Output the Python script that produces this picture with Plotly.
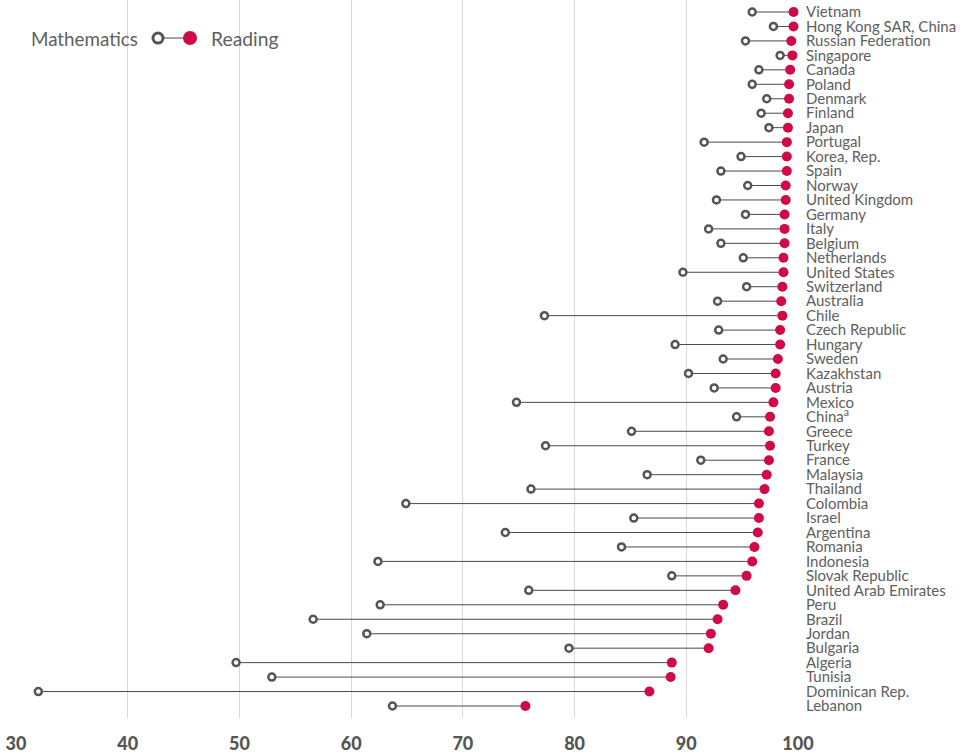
import plotly.graph_objects as go

countries = ["Vietnam", "Hong Kong SAR, China", "Russian Federation", "Singapore", "Canada",
             "Poland", "Denmark", "Finland", "Japan", "Portugal", "Korea, Rep.", "Spain",
             "Norway", "United Kingdom", "Germany", "Italy", "Belgium", "Netherlands",
             "United States", "Switzerland", "Australia", "Chile", "Czech Republic", "Hungary",
             "Sweden", "Kazakhstan", "Austria", "Mexico", "China<sup>a</sup>", "Greece", "Turkey",
             "France", "Malaysia", "Thailand", "Colombia", "Israel", "Argentina", "Romania",
             "Indonesia", "Slovak Republic", "United Arab Emirates", "Peru", "Brazil", "Jordan",
             "Bulgaria", "Algeria", "Tunisia", "Dominican Rep.", "Lebanon"]

mathematics = [95.9, 97.8, 95.3, 98.4, 96.5, 95.9, 97.2, 96.7, 97.4, 91.6, 94.9, 93.1,
               95.5, 92.7, 95.3, 92.0, 93.1, 95.1, 89.7, 95.4, 92.8, 77.3, 92.9, 89.0,
               93.3, 90.2, 92.5, 74.8, 94.5, 85.1, 77.4, 91.3, 86.5, 76.1, 64.9, 85.3,
               73.8, 84.2, 62.4, 88.7, 75.9, 62.6, 56.6, 61.4, 79.5, 49.7, 52.9, 32.0, 63.7]

reading = [99.6, 99.6, 99.4, 99.5, 99.3, 99.2, 99.2, 99.1, 99.1, 99.0, 99.0, 99.0,
           98.9, 98.9, 98.8, 98.8, 98.8, 98.7, 98.7, 98.6, 98.5, 98.6, 98.4, 98.4,
           98.2, 98.0, 98.0, 97.8, 97.5, 97.4, 97.5, 97.4, 97.2, 97.0, 96.5, 96.5,
           96.4, 96.1, 95.9, 95.4, 94.4, 93.3, 92.8, 92.2, 92.0, 88.7, 88.6, 86.7, 75.6]

x_ticks = [30, 40, 50, 60, 70, 80, 90, 100]

RED = "#CF0A45"
GRAY = "#555555"
LABEL_GRAY = "#606060"

lx, ly = [], []
for c, m, r in zip(countries, mathematics, reading):
    lx += [m, r, None]
    ly += [c, c, None]

fig = go.Figure()
fig.add_trace(go.Scatter(x=lx, y=ly, mode="lines", line=dict(color="#4a4a4a", width=1),
                         hoverinfo="skip", showlegend=False, cliponaxis=False))
fig.add_trace(go.Scatter(x=mathematics, y=countries, mode="markers", name="Mathematics",
                         marker=dict(size=7, color="white", line=dict(color=GRAY, width=2.5)),
                         showlegend=False, cliponaxis=False))
fig.add_trace(go.Scatter(x=reading, y=countries, mode="markers", name="Reading",
                         marker=dict(size=10, color=RED, line=dict(width=0)),
                         showlegend=False, cliponaxis=False))

# Legend drawn manually
x_open, x_fill, y_leg = 0.1816, 0.2225, 0.947
shapes = [
    dict(type="line", xref="paper", yref="paper", x0=x_open, x1=x_fill, y0=y_leg, y1=y_leg,
         line=dict(color="#4a4a4a", width=1)),
    dict(type="circle", xref="paper", yref="paper", xsizemode="pixel", ysizemode="pixel",
         xanchor=x_open, yanchor=y_leg, x0=-5, x1=5, y0=-5, y1=5,
         fillcolor="white", line=dict(color=GRAY, width=3)),
    dict(type="circle", xref="paper", yref="paper", xsizemode="pixel", ysizemode="pixel",
         xanchor=x_fill, yanchor=y_leg, x0=-7, x1=7, y0=-7, y1=7,
         fillcolor=RED, line=dict(width=0)),
]
annotations = [
    dict(text="Mathematics", xref="paper", yref="paper", x=0.1586, y=y_leg,
         xanchor="right", yanchor="middle", showarrow=False,
         font=dict(size=18.8, color=LABEL_GRAY, family="Lato")),
    dict(text="Reading", xref="paper", yref="paper", x=0.2470, y=y_leg,
         xanchor="left", yanchor="middle", showarrow=False,
         font=dict(size=19.3, color=LABEL_GRAY, family="Lato")),
]

fig.update_layout(
    width=960, height=755,
    margin=dict(l=16, r=162, t=0, b=37, autoexpand=False),
    plot_bgcolor="white", paper_bgcolor="white",
    font=dict(family="Lato", color=GRAY),
    shapes=shapes, annotations=annotations,
    xaxis=dict(range=[30, 100], tickvals=x_ticks, showgrid=True, gridcolor="#d9d9d9",
               gridwidth=1, zeroline=False, showline=False, ticks="", automargin=False,
               tickfont=dict(size=18, color=GRAY, family="Lato Black, Lato"),
               ticklabelstandoff=13),
    yaxis=dict(type="category", categoryorder="array", categoryarray=countries,
               tickmode="array", tickvals=countries, ticktext=countries,
               range=[48.83, -0.83], side="right", showgrid=False, zeroline=False,
               showline=False, ticks="", automargin=False,
               tickfont=dict(size=15, color=LABEL_GRAY, family="Lato"),
               ticklabelstandoff=7),
    showlegend=False,
)

fig.write_html("out.html", config={"displayModeBar": False},
               post_script="document.body.style.margin='0';")
